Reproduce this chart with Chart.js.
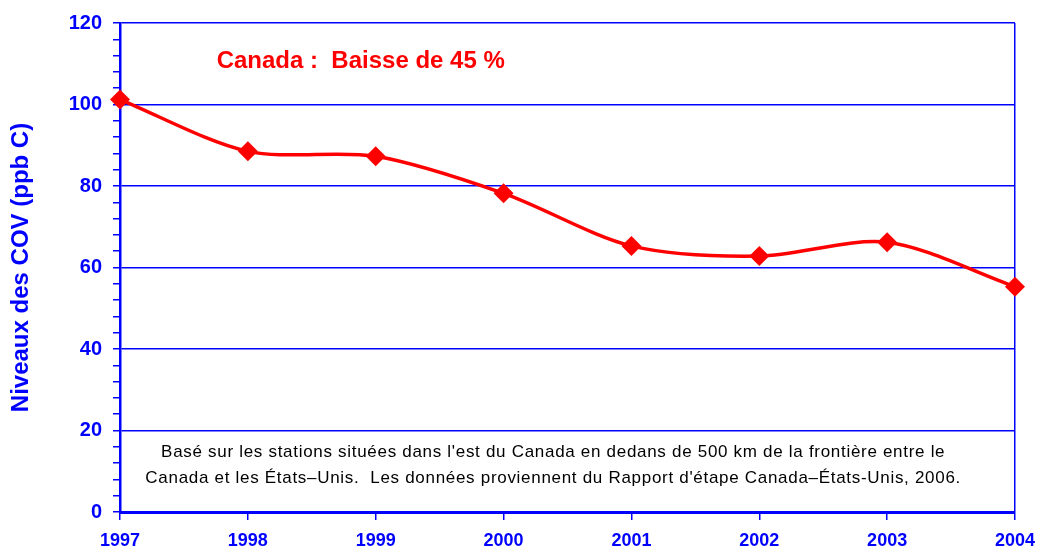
<!DOCTYPE html>
<html>
<head>
<meta charset="utf-8">
<script src="https://cdn.jsdelivr.net/npm/chart.js@4"></script>
<style>
  html, body { margin: 0; padding: 0; background: #fff; overflow: hidden; }
  #wrap { width: 1039px; height: 553px; position: relative; }
</style>
</head>
<body>
<div id="wrap"><canvas id="covChart"></canvas></div>
<script>
// données
const years = ['1997', '1998', '1999', '2000', '2001', '2002', '2003', '2004'];
const covLevels = [101.2, 88.5, 87.3, 78.2, 65.3, 62.8, 66.2, 55.3];
const yMin = 0;
const yMax = 120;
const yMajorStep = 20;
const yMinorStep = 4;

const headline = 'Canada :  Baisse de 45 %';
const noteLines = [
  "Basé sur les stations situées dans l'est du Canada en dedans de 500 km de la frontière entre le",
  "Canada et les États\u2013Unis.  Les données proviennent du Rapport d'étape Canada\u2013États-Unis, 2006."
];

const BLUE = '#0000ff';
const RED = '#ff0000';
const FONT = "'Liberation Sans', Arial, sans-serif";

// textes dans la zone du graphique
const notesPlugin = {
  id: 'notes',
  afterDatasetsDraw(chart) {
    const c = chart.ctx;
    const a = chart.chartArea;
    const w = a.right - a.left;
    c.save();
    c.fillStyle = RED;
    c.font = 'bold 24px ' + FONT;
    c.textAlign = 'left';
    c.textBaseline = 'middle';
    c.fillText(headline, a.left + w * 0.108, chart.scales.y.getPixelForValue(110.7));

    c.fillStyle = '#000';
    c.font = '17px ' + FONT;
    c.letterSpacing = '0.7px';
    c.textAlign = 'center';
    c.fillText(noteLines[0], a.left + w * 0.484, chart.scales.y.getPixelForValue(14.6));
    c.fillText(noteLines[1], a.left + w * 0.484, chart.scales.y.getPixelForValue(8.2));
    c.restore();
  }
};

const ctx = document.getElementById('covChart').getContext('2d');
new Chart(ctx, {
  type: 'line',
  data: {
    labels: years,
    datasets: [{
      data: covLevels,
      borderColor: RED,
      backgroundColor: RED,
      borderWidth: 3.5,
      tension: 0.3,
      pointStyle: 'rectRot',
      pointRadius: 10,
      pointBorderWidth: 0,
      pointBackgroundColor: RED,
      fill: false
    }]
  },
  options: {
    responsive: true,
    maintainAspectRatio: false,
    animation: false,
    layout: { autoPadding: false, padding: { left: 0, right: 24, top: 23, bottom: 0 } },
    plugins: { legend: { display: false }, tooltip: { enabled: false } },
    scales: {
      x: {
        offset: false,
        afterFit: (s) => { s.height = 41; s.paddingLeft = 0; s.paddingRight = 0; },
        grid: {
          drawOnChartArea: true,
          color: (c) => c.index === years.length - 1 ? BLUE : 'transparent',
          tickColor: BLUE,
          lineWidth: 1.5,
          tickLength: 8,
          tickWidth: 1.5
        },
        border: { color: BLUE, width: 3 },
        ticks: {
          color: BLUE,
          font: { family: FONT, size: 18, weight: 'bold' },
          padding: 10,
          maxRotation: 0,
          autoSkip: false
        }
      },
      y: {
        min: yMin,
        max: yMax,
        afterFit: (s) => { s.width = 120; s.paddingTop = 0; s.paddingBottom = 0; },
        grid: {
          color: (c) => (c.tick && c.tick.value % yMajorStep === 0 && c.tick.value !== 0) ? BLUE : 'transparent',
          tickColor: BLUE,
          lineWidth: 1.5,
          tickLength: 7,
          tickWidth: 1.5
        },
        border: { color: BLUE, width: 2.5 },
        ticks: {
          stepSize: yMinorStep,
          autoSkip: false,
          color: BLUE,
          padding: 11,
          font: { family: FONT, size: 20, weight: 'bold' },
          callback: (v) => v % yMajorStep === 0 ? v : ''
        },
        title: {
          display: true,
          text: 'Niveaux des COV (ppb C)',
          color: BLUE,
          font: { family: FONT, size: 24, weight: 'bold' },
          padding: { top: 7, bottom: 0 }
        }
      }
    }
  },
  plugins: [notesPlugin]
});
</script>
</body>
</html>
